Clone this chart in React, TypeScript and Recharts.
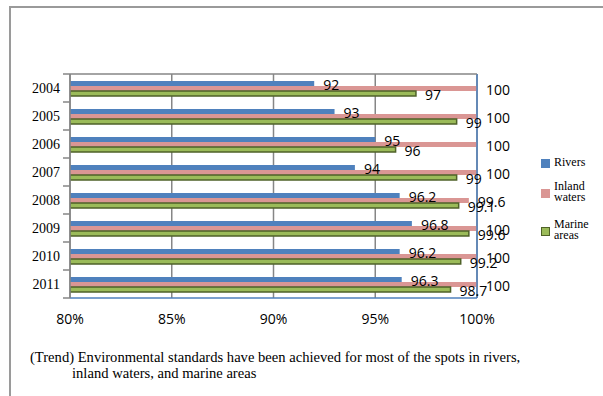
import { Bar, BarChart, CartesianGrid, LabelList, Legend, ReferenceLine, XAxis, YAxis } from "recharts";

const years = ["2004", "2005", "2006", "2007", "2008", "2009", "2010", "2011"];
const rivers = [92, 93, 95, 94, 96.2, 96.8, 96.2, 96.3];
const inlandWaters = [100, 100, 100, 100, 99.6, 100, 100, 100];
const marineAreas = [97, 99, 96, 99, 99.1, 99.6, 99.2, 98.7];
const percentTicks = [80, 85, 90, 95, 100];

const seriesInfo = [
  { key: "rivers", name: "Rivers", lines: ["Rivers"], fill: "#4F81BD", stroke: "none" },
  { key: "inland", name: "Inland waters", lines: ["Inland", "waters"], fill: "#DA9694", stroke: "none" },
  { key: "marine", name: "Marine areas", lines: ["Marine", "areas"], fill: "#9BBB59", stroke: "#4F6228" },
];

const data = years.map((year, i) => ({
  year,
  rivers: rivers[i],
  inland: inlandWaters[i],
  marine: marineAreas[i],
}));

const W = 603;
const H = 396;
const MARGIN = { top: 69, right: 126, bottom: 68, left: 0 };
const TOP_AXIS_H = 5;
const BOTTOM_AXIS_H = 30;
const plotHeight = H - MARGIN.top - MARGIN.bottom - TOP_AXIS_H - BOTTOM_AXIS_H;
const band = plotHeight / years.length;

const grey = "#868686";
const sans = "'Open Sans', sans-serif";
const serif = "'Liberation Serif', 'Times New Roman', serif";

function YearTick(props: any) {
  const { x, y, payload, index } = props;
  const half = band / 2;
  return (
    <g>
      <line x1={x} x2={x - 7} y1={y - half} y2={y - half} stroke={grey} strokeWidth={1.5} />
      {index === years.length - 1 && <line x1={x} x2={x - 7} y1={y + half} y2={y + half} stroke={grey} strokeWidth={1.5} />}
      <text x={x - 10} y={y} dy={5} textAnchor="end" fontFamily={serif} fontSize={14} fill="#000">
        {payload.value}
      </text>
    </g>
  );
}

function LegendBox() {
  return (
    <div style={{ fontFamily: serif, fontSize: 12, lineHeight: "11px", color: "#000", textAlign: "left" }}>
      {seriesInfo.map((s, i) => (
        <div key={s.key} style={{ display: "flex", alignItems: "flex-start", marginBottom: i === 0 ? 13 : 16 }}>
          <span
            style={{
              flex: "none",
              width: s.stroke === "none" ? 9 : 7,
              height: s.stroke === "none" ? 9 : 7,
              background: s.fill,
              border: s.stroke === "none" ? "none" : `1.5px solid ${s.stroke}`,
              marginRight: 4,
              marginTop: s.lines.length > 1 ? 8 : 2,
            }}
          />
          <span>
            {s.lines.map((l) => (
              <div key={l}>{l}</div>
            ))}
          </span>
        </div>
      ))}
    </div>
  );
}

export default function App() {
  return (
    <div style={{ position: "absolute", left: 0, top: 0, width: W, height: H, background: "#fff" }}>
      <div
        style={{
          position: "absolute",
          left: 9,
          top: 6,
          width: W - 9,
          height: H - 6,
          borderTop: "2px solid #9a9a9a",
          borderLeft: "2px solid #9a9a9a",
          boxSizing: "border-box",
        }}
      />
      <BarChart
        width={W}
        height={H}
        data={data}
        layout="vertical"
        margin={MARGIN}
        barSize={5}
        barGap={0}
        style={{ position: "absolute", left: 0, top: 0 }}
      >
        <CartesianGrid horizontal={false} stroke={grey} strokeWidth={1.5} />
        <XAxis
          type="number"
          domain={[80, 100]}
          ticks={percentTicks}
          allowDataOverflow
          height={BOTTOM_AXIS_H}
          tickFormatter={(v) => `${v}%`}
          tick={{ fontFamily: sans, fontSize: 14, fill: "#000" }}
          tickLine={false}
          tickSize={0}
          tickMargin={16}
          axisLine={{ stroke: "#4F81BD", strokeWidth: 1.5 }}
        />
        <XAxis
          xAxisId="top"
          orientation="top"
          type="number"
          domain={[80, 100]}
          ticks={percentTicks}
          height={TOP_AXIS_H}
          tickFormatter={() => ""}
          tickSize={5}
          tickLine={{ stroke: grey, strokeWidth: 1.5 }}
          axisLine={{ stroke: grey, strokeWidth: 1.5 }}
        />
        <YAxis
          type="category"
          dataKey="year"
          width={70}
          tickSize={0}
          tickMargin={0}
          tick={<YearTick />}
          axisLine={{ stroke: grey, strokeWidth: 1.5 }}
        />
        <Legend
          layout="vertical"
          verticalAlign="middle"
          align="center"
          wrapperStyle={{ left: 541, top: 157, width: 62 }}
          content={() => <LegendBox />}
        />
        {seriesInfo.map((s) => (
          <Bar
            key={s.key}
            dataKey={s.key}
            name={s.name}
            fill={s.fill}
            stroke={s.stroke}
            strokeWidth={s.stroke === "none" ? 0 : 1.5}
            isAnimationActive={false}
          >
            <LabelList
              dataKey={s.key}
              position="right"
              offset={9}
              dy={2}
              style={{ fontFamily: sans, fontSize: 14, fill: "#000" }}
            />
          </Bar>
        ))}
        <ReferenceLine x={100} stroke="#4F81BD" strokeWidth={1.5} />
      </BarChart>
      <div
        style={{
          position: "absolute",
          left: 30,
          top: 349,
          fontFamily: serif,
          fontSize: 14.6,
          lineHeight: "16px",
          color: "#000",
          whiteSpace: "nowrap",
        }}
      >
        <div>(Trend) Environmental standards have been achieved for most of the spots in rivers,</div>
        <div style={{ paddingLeft: 42 }}>inland waters, and marine areas</div>
      </div>
    </div>
  );
}
